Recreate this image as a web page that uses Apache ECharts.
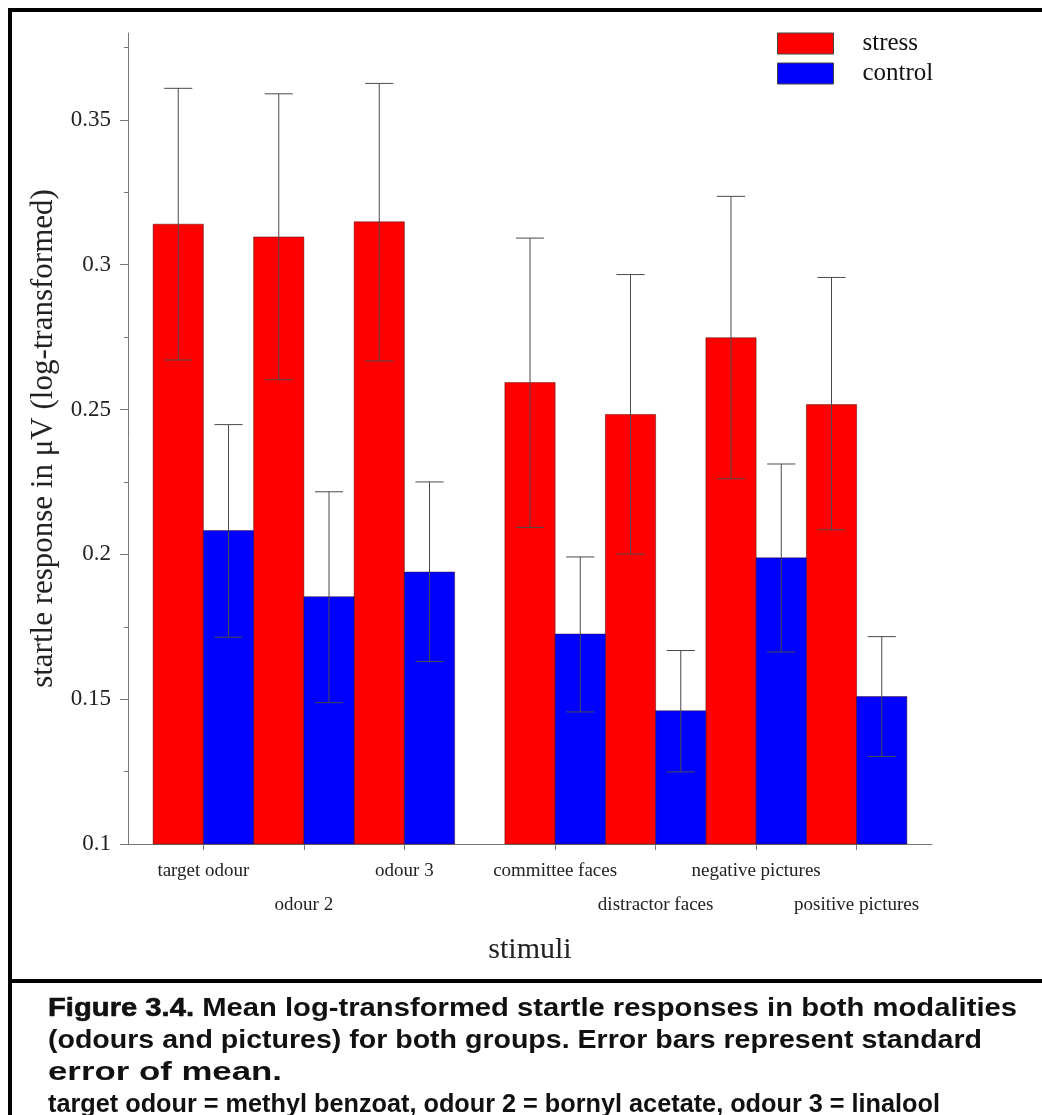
<!DOCTYPE html>
<html>
<head>
<meta charset="utf-8">
<script src="https://cdn.jsdelivr.net/npm/echarts@6/dist/echarts.min.js"></script>
<style>
    html, body { margin: 0; padding: 0; background: #fff; }
    #wrap { position: relative; width: 1042px; height: 1115px; overflow: hidden; }
    #main { position: absolute; left: 0; top: 0; width: 1042px; height: 1115px; }
    #caption {
        position: absolute; left: 48px; top: 991px; width: 994px;
        font-family: "Liberation Sans", Arial, sans-serif; font-weight: bold;
        font-size: 25px; line-height: 32px; color: #111;
    }
    #caption div { height: 32px; white-space: nowrap; }
    #caption .ln { display: inline-block; transform-origin: 0 0; }
    #caption .fig { -webkit-text-stroke: 0.6px #111; }
</style>
</head>
<body>
<div id="wrap">
    <div id="main"></div>
    <div id="caption">
        <div><span class="ln"><span class="fig">Figure 3.4.</span> Mean log-transformed startle responses in both modalities</span></div>
        <div><span class="ln">(odours and pictures) for both groups. Error bars represent standard</span></div>
        <div><span class="ln">error of mean.</span></div>
        <div><span class="ln">target odour = methyl benzoat, odour 2 = bornyl acetate, odour 3 = linalool</span></div>
    </div>
</div>
<script>
    // 类别 stimuli
    var categories = ['target odour', 'odour 2', 'odour 3', 'committee faces', 'distractor faces', 'negative pictures', 'positive pictures'];
    // label on first (0) or second (1) row under the axis
    var labelRow = [0, 1, 0, 0, 1, 0, 1];
    // group centre on the x scale (one unit = one bar), gap between odours and pictures
    var groupPos = [1.5, 3.5, 5.5, 8.5, 10.5, 12.5, 14.5];

    // stress group
    var stressMean = [0.314, 0.3096, 0.3148, 0.2593, 0.2483, 0.2748, 0.2517];
    var stressHigh = [0.3609, 0.359, 0.3626, 0.3092, 0.2966, 0.3236, 0.2956];
    var stressLow = [0.2671, 0.2603, 0.2668, 0.2093, 0.2001, 0.2261, 0.2085];
    // control group
    var controlMean = [0.2082, 0.1854, 0.1939, 0.1725, 0.146, 0.1988, 0.1509];
    var controlHigh = [0.2448, 0.2216, 0.225, 0.1991, 0.1668, 0.2312, 0.1716];
    var controlLow = [0.1714, 0.1488, 0.163, 0.1456, 0.1249, 0.1663, 0.1302];

    var yTicks = [0.1, 0.15, 0.2, 0.25, 0.3, 0.35];
    var yMinorTicks = [0.125, 0.175, 0.225, 0.275, 0.325, 0.375];

    var yMin = 0.1, yMax = 0.38;
    var serif = '"Liberation Serif", "Times New Roman", serif';

    // caption lines are stretched to the widths of the scanned figure
    var captionWidths = [969, 934, 234, 892];
    var lns = document.querySelectorAll('#caption .ln');
    for (var k = 0; k < lns.length; k++) {
        var w = lns[k].getBoundingClientRect().width;
        lns[k].style.transform = 'scaleX(' + (captionWidths[k] / w) + ')';
    }

    // split label positions in two rows
    var row0Pos = [], row1Pos = [];
    for (var j = 0; j < groupPos.length; j++) {
        (labelRow[j] ? row1Pos : row0Pos).push(groupPos[j]);
    }
    function labelOf(v) {
        var i = groupPos.indexOf(v);
        return i < 0 ? '' : categories[i];
    }

    function buildData(means, highs, lows, shift) {
        var out = [];
        for (var i = 0; i < means.length; i++) {
            out.push([groupPos[i] + shift, means[i], highs[i], lows[i]]);
        }
        return out;
    }

    function makeRender(color) {
        return function (params, api) {
            var x = api.value(0);
            var tl = api.coord([x - 0.5, api.value(1)]);
            var br = api.coord([x + 0.5, yMin]);
            var hi = api.coord([x, api.value(2)]);
            var lo = api.coord([x, api.value(3)]);
            var cap = api.size([0.28, 0])[0];
            var lineStyle = { stroke: '#4a4a4a', lineWidth: 1 };
            return {
                type: 'group',
                children: [
                    { type: 'rect', shape: { x: tl[0], y: tl[1], width: br[0] - tl[0], height: br[1] - tl[1] },
                      style: { fill: color, stroke: 'rgba(60,0,0,0.45)', lineWidth: 1 } },
                    { type: 'line', shape: { x1: hi[0], y1: hi[1], x2: lo[0], y2: lo[1] }, style: lineStyle },
                    { type: 'line', shape: { x1: hi[0] - cap, y1: hi[1], x2: hi[0] + cap, y2: hi[1] }, style: lineStyle },
                    { type: 'line', shape: { x1: lo[0] - cap, y1: lo[1], x2: lo[0] + cap, y2: lo[1] }, style: lineStyle }
                ]
            };
        };
    }

    var labelFont = { fontFamily: serif, fontSize: 19, color: '#222', lineHeight: 34 };

    var chart = echarts.init(document.getElementById('main'));
    chart.setOption({
        animation: false,
        backgroundColor: '#fff',
        grid: { left: 128, right: 110, top: 33, bottom: 271, outerBoundsMode: 'none' },
        legend: {
            orient: 'vertical', left: 777, top: 31, padding: 0,
            itemWidth: 56, itemHeight: 21, itemGap: 5,
            icon: 'rect',
            textStyle: { fontFamily: serif, fontSize: 25, color: '#111', padding: [0, 0, 0, 24] },
            data: [
                { name: 'stress', itemStyle: { color: '#ff0000', borderColor: '#444', borderWidth: 1 } },
                { name: 'control', itemStyle: { color: '#0000ff', borderColor: '#444', borderWidth: 1 } }
            ]
        },
        xAxis: [{
            type: 'value', min: 0, max: 16, position: 'bottom',
            splitLine: { show: false },
            axisLine: { show: true, lineStyle: { color: '#777', width: 1 } },
            axisTick: { show: true, length: 6, customValues: groupPos, lineStyle: { color: '#777' } },
            axisLabel: Object.assign({
                customValues: row0Pos, margin: 10,
                showMinLabel: true, showMaxLabel: true, hideOverlap: false,
                formatter: labelOf
            }, labelFont),
            name: 'stimuli', nameLocation: 'middle', nameGap: 91,
            nameTextStyle: { fontFamily: serif, fontSize: 30, color: '#222' }
        }, {
            type: 'value', min: 0, max: 16, position: 'bottom', offset: 0,
            splitLine: { show: false },
            axisLine: { show: false },
            axisTick: { show: false },
            axisLabel: Object.assign({
                customValues: row1Pos, margin: 44,
                showMinLabel: true, showMaxLabel: true, hideOverlap: false,
                formatter: labelOf
            }, labelFont)
        }],
        yAxis: [{
            type: 'value', min: yMin, max: yMax, interval: 0.05,
            splitLine: { show: false },
            axisLine: { show: true, lineStyle: { color: '#777', width: 1 } },
            axisTick: { show: true, length: 8, customValues: yTicks, lineStyle: { color: '#777' } },
            axisLabel: { customValues: yTicks, margin: 17, fontFamily: serif, fontSize: 23, color: '#222' },
            name: 'startle response in μV (log-transformed)', nameLocation: 'middle', nameGap: 69,
            nameTextStyle: { fontFamily: serif, fontSize: 31, color: '#222' }
        }, {
            type: 'value', min: yMin, max: yMax, position: 'left',
            splitLine: { show: false },
            axisLine: { show: false },
            axisLabel: { show: false },
            axisTick: { show: true, length: 4, customValues: yMinorTicks, lineStyle: { color: '#777' } }
        }],
        graphic: [
            { type: 'rect', left: 8, top: 8, shape: { width: 1040, height: 4 }, style: { fill: '#000' } },
            { type: 'rect', left: 8, top: 8, shape: { width: 4, height: 1110 }, style: { fill: '#000' } },
            { type: 'rect', left: 8, top: 979, shape: { width: 1040, height: 4 }, style: { fill: '#000' } }
        ],
        series: [{
            name: 'stress', type: 'custom',
            itemStyle: { color: '#ff0000' },
            renderItem: makeRender('#ff0000'),
            encode: { x: 0, y: [1, 2, 3] },
            data: buildData(stressMean, stressHigh, stressLow, -0.5)
        }, {
            name: 'control', type: 'custom',
            itemStyle: { color: '#0000ff' },
            renderItem: makeRender('#0000ff'),
            encode: { x: 0, y: [1, 2, 3] },
            data: buildData(controlMean, controlHigh, controlLow, 0.5)
        }]
    });
</script>
</body>
</html>
